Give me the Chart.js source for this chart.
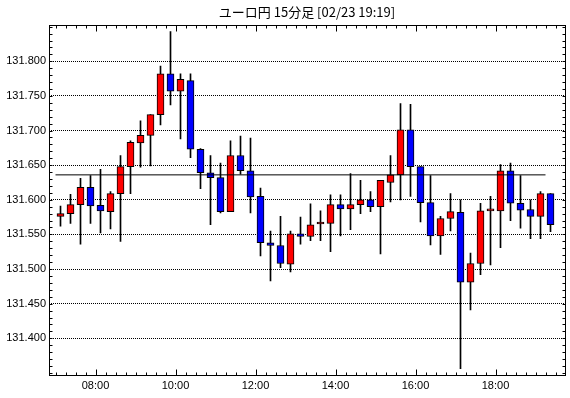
<!DOCTYPE html>
<html lang="ja">
<head>
<meta charset="utf-8">
<title>ユーロ円 15分足</title>
<script src="https://cdn.jsdelivr.net/npm/chart.js@4.4.1/dist/chart.umd.min.js"></script>
<style>
    html, body { margin: 0; padding: 0; background: #fff; }
    #wrap { width: 570px; height: 398px; }
</style>
</head>
<body>
<div id="wrap"><canvas id="chart"></canvas></div>
<script>
// ================= DATA =================
const titleText = "ユーロ円 15分足 [02/23 19:19]";

const times = [
    "07:00", "07:15", "07:30", "07:45", "08:00", "08:15", "08:30", "08:45", "09:00", "09:15",
    "09:30", "09:45", "10:00", "10:15", "10:30", "10:45", "11:00", "11:15", "11:30", "11:45",
    "12:00", "12:15", "12:30", "12:45", "13:00", "13:15", "13:30", "13:45", "14:00", "14:15",
    "14:30", "14:45", "15:00", "15:15", "15:30", "15:45", "16:00", "16:15", "16:30", "16:45",
    "17:00", "17:15", "17:30", "17:45", "18:00", "18:15", "18:30", "18:45", "19:00", "19:15"
];

const opens = [
    131.576, 131.580, 131.593, 131.618, 131.592, 131.583, 131.609, 131.648, 131.682, 131.693,
    131.723, 131.782, 131.757, 131.772, 131.673, 131.639, 131.632, 131.583, 131.664, 131.642,
    131.605, 131.538, 131.534, 131.507, 131.551, 131.547, 131.565, 131.566, 131.593, 131.587,
    131.593, 131.600, 131.590, 131.625, 131.636, 131.701, 131.648, 131.596, 131.548, 131.573,
    131.582, 131.481, 131.508, 131.584, 131.584, 131.642, 131.595, 131.586, 131.576, 131.609
];

const highs = [
    131.591, 131.608, 131.631, 131.635, 131.644, 131.612, 131.664, 131.685, 131.714, 131.723,
    131.793, 131.843, 131.782, 131.782, 131.674, 131.664, 131.653, 131.685, 131.692, 131.689,
    131.617, 131.555, 131.576, 131.555, 131.575, 131.594, 131.584, 131.607, 131.607, 131.638,
    131.628, 131.612, 131.628, 131.664, 131.739, 131.738, 131.648, 131.635, 131.576, 131.609,
    131.600, 131.523, 131.595, 131.605, 131.651, 131.653, 131.635, 131.600, 131.612, 131.609
];

const lows = [
    131.562, 131.566, 131.536, 131.566, 131.552, 131.558, 131.540, 131.609, 131.647, 131.649,
    131.708, 131.737, 131.688, 131.661, 131.616, 131.564, 131.581, 131.583, 131.637, 131.581,
    131.519, 131.483, 131.502, 131.496, 131.536, 131.541, 131.541, 131.525, 131.548, 131.557,
    131.580, 131.583, 131.522, 131.597, 131.600, 131.605, 131.568, 131.535, 131.521, 131.555,
    131.356, 131.441, 131.492, 131.506, 131.531, 131.570, 131.559, 131.544, 131.544, 131.554
];

const closes = [
    131.580, 131.593, 131.618, 131.591, 131.584, 131.609, 131.648, 131.683, 131.693, 131.723,
    131.782, 131.757, 131.774, 131.673, 131.639, 131.632, 131.583, 131.664, 131.642, 131.604,
    131.538, 131.534, 131.508, 131.551, 131.547, 131.564, 131.566, 131.593, 131.587, 131.593,
    131.600, 131.590, 131.628, 131.636, 131.701, 131.648, 131.596, 131.548, 131.573, 131.583,
    131.481, 131.508, 131.584, 131.585, 131.642, 131.595, 131.585, 131.576, 131.609, 131.564
];

// 前日終値ライン
const baseLine = 131.636;
const baseFrom = "07:00";
const baseTo = "19:15";

// ================= HELPERS =================
function toMin(t) {
    const [h, m] = t.split(":").map(Number);
    return h * 60 + m;
}

function hhmm(v) {
    const h = Math.floor(v / 60), m = Math.round(v % 60);
    return String(h).padStart(2, "0") + ":" + String(m).padStart(2, "0");
}

const UP = "#ff0000";
const DOWN = "#0000ff";

const bodies = times.map((t, i) => ({ x: toMin(t) + 7.5, y: [opens[i], closes[i]] }));
const wicks = times.map((t, i) => ({ x: toMin(t) + 7.5, y: [lows[i], highs[i]] }));

// ================= FRAME + INNER TICKS =================
const frameTicks = {
    id: "frameTicks",
    afterDraw(chart) {
        const { ctx, chartArea: a, scales: { x, y } } = chart;
        const L = Math.round(a.left) + 0.5, R = Math.round(a.right) + 0.5;
        const T = Math.round(a.top) + 0.5, B = Math.round(a.bottom) + 0.5;
        ctx.save();
        ctx.strokeStyle = "#000";
        ctx.lineWidth = 1;
        ctx.strokeRect(L, T, R - L, B - T);
        ctx.beginPath();
        // 15分ごとの目盛り
        for (let m = 420; m < x.max; m += 15) {
            const px = Math.round(x.getPixelForValue(m)) + 0.5;
            const len = m % 120 === 0 ? 6 : 3;
            ctx.moveTo(px, B); ctx.lineTo(px, B - len);
            ctx.moveTo(px, T); ctx.lineTo(px, T + len);
        }
        // 0.01ごとの目盛り
        for (let k = 13135; k <= 13185; k++) {
            const v = k / 100;
            if (v < y.min || v > y.max) continue;
            const py = Math.round(y.getPixelForValue(v)) + 0.5;
            ctx.moveTo(L, py); ctx.lineTo(L + 3, py);
            ctx.moveTo(R, py); ctx.lineTo(R - 3, py);
        }
        ctx.stroke();
        ctx.restore();
    }
};

// ================= CHART =================
const tickFont = { family: "'Liberation Sans', Arial, sans-serif", size: 11 };

new Chart(document.getElementById("chart"), {
    type: "bar",
    data: {
        datasets: [
            {
                type: "line",
                label: "base",
                data: [{ x: toMin(baseFrom), y: baseLine }, { x: toMin(baseTo), y: baseLine }],
                borderColor: "#000",
                borderWidth: 1,
                pointRadius: 0,
                order: -1
            },
            {
                label: "body",
                data: bodies,
                grouped: false,
                order: 0,
                barThickness: 7,
                minBarLength: 2,
                backgroundColor: (c) => {
                    const i = c.dataIndex;
                    if (i === undefined) return UP;
                    return closes[i] >= opens[i] ? UP : DOWN;
                },
                borderColor: "#000",
                borderWidth: 1,
                borderSkipped: false
            },
            {
                label: "wick",
                data: wicks,
                grouped: false,
                order: 1,
                barThickness: 1,
                backgroundColor: "#000",
                borderWidth: 0
            }
        ]
    },
    options: {
        responsive: true,
        maintainAspectRatio: false,
        animation: false,
        layout: { padding: { left: 0, right: 5, top: 0, bottom: 0 } },
        plugins: {
            legend: { display: false },
            tooltip: { enabled: false },
            title: {
                display: true,
                text: titleText,
                fullSize: false,
                color: "#000",
                font: { family: "'Noto Sans CJK JP', sans-serif", size: 13, weight: "normal" },
                padding: { top: 4, bottom: 5 }
            }
        },
        scales: {
            x: {
                type: "linear",
                offset: false,
                min: 410.25,
                max: 1184.25,
                grid: { display: false, offset: false, drawTicks: false },
                border: { display: false },
                ticks: {
                    stepSize: 120,
                    includeBounds: false,
                    autoSkip: false,
                    maxRotation: 0,
                    padding: 4,
                    color: "#000",
                    font: tickFont,
                    callback: (v) => hhmm(v)
                },
                afterFit: (s) => { s.height = 23; }
            },
            y: {
                min: 131.347,
                max: 131.853,
                grid: {
                    drawTicks: false,
                    lineWidth: 1,
                    color: (c) => {
                        const v = Math.round(c.tick.value * 1000);
                        return (v >= 131400 && v <= 131800) ? "#000" : "rgba(0,0,0,0)";
                    }
                },
                border: { display: false, dash: [1, 1] },
                ticks: {
                    stepSize: 0.05,
                    includeBounds: false,
                    autoSkip: false,
                    padding: 3,
                    color: "#000",
                    font: tickFont,
                    callback: (v) => {
                        const k = Math.round(v * 1000);
                        return (k >= 131400 && k <= 131800) ? (k / 1000).toFixed(3) : "";
                    }
                },
                afterFit: (s) => { s.width = 49; }
            }
        }
    },
    plugins: [frameTicks]
});
</script>
</body>
</html>
